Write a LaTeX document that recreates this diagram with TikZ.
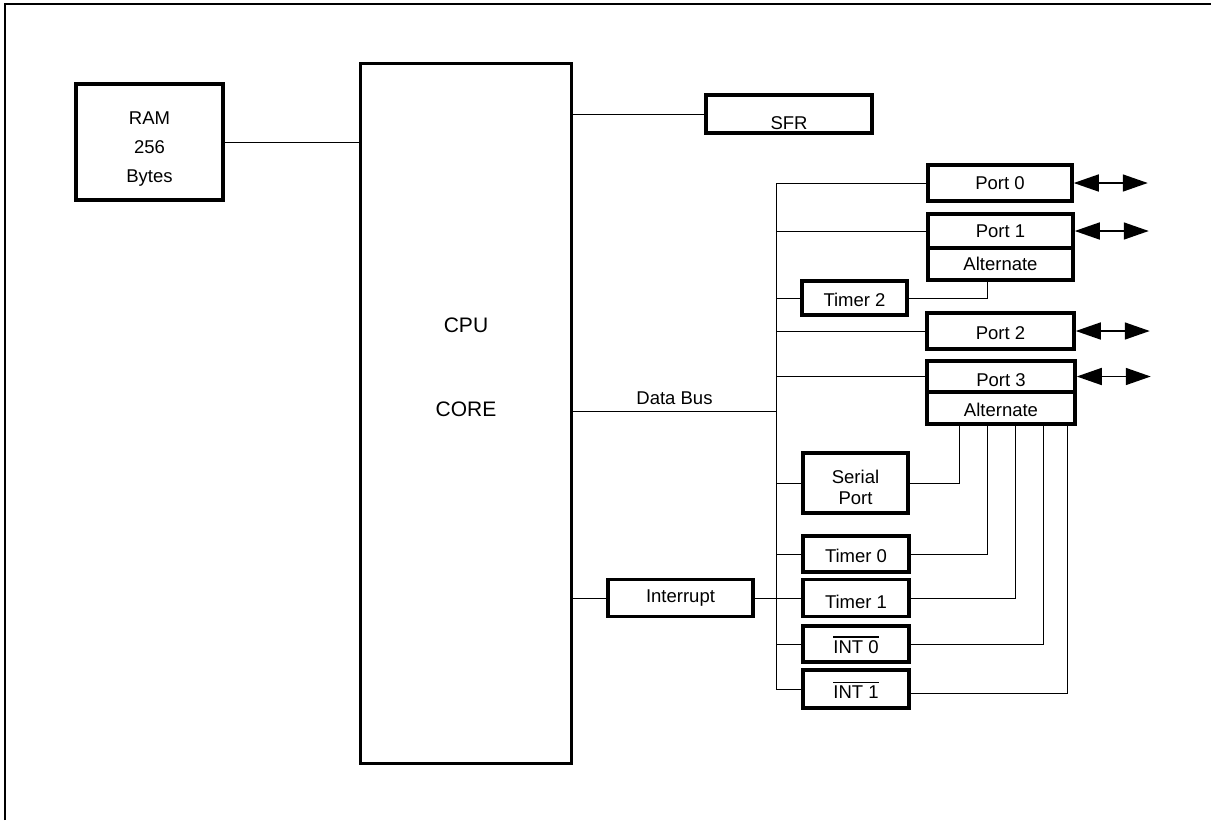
\documentclass[tikz,border=0pt]{standalone}
\usepackage{fontspec}
\setmainfont{Liberation Sans}
\usetikzlibrary{arrows.meta,calc}
\newcommand{\ovlbar}[1]{\vbox{\hrule height 1.2pt\kern 3pt\hbox{#1}}}
\begin{document}
\begin{tikzpicture}[x=1pt,y=-1pt,
  box/.style={draw,line width=3.5pt,rectangle,inner sep=0pt,font=\fontsize{18.5}{22}\selectfont,align=center},
  conn/.style={line width=1pt},
  bidir/.style={line width=1.6pt,{Triangle[length=25pt,width=17pt]}-{Triangle[length=25pt,width=17pt]}},
  lbl/.style={font=\fontsize{18.5}{22}\selectfont,align=center},
  big/.style={font=\fontsize{21}{25}\selectfont}]
\useasboundingbox (0,0) rectangle (1211,820);
\draw[line width=2.5pt] (5,820) -- (5,4) -- (1211,4);

% boxes
\node[box,minimum width=147,minimum height=116] (ram) at (149.5,142) {};
\node[lbl] (ramtxt) at (149.5,149) {RAM\\[7pt]256\\[7pt]Bytes};
\node[box,line width=3pt,minimum width=211,minimum height=700] (cpu) at (466,413) {};
\node[big] (cputxt) at (466,325) {CPU};
\node[big] (coretxt) at (466,409) {CORE};
\node[box,minimum width=166,minimum height=38] (sfr) at (789,114) {};
\node[lbl] (sfrtxt) at (789,123) {SFR};

\node[box,minimum width=144,minimum height=36] (p0) at (1000,183) {Port 0};
\node[box,minimum width=145,minimum height=34] (p1) at (1000.5,231) {Port 1};
\node[box,minimum width=145,minimum height=32] (a1) at (1000.5,264) {Alternate};
\node[box,minimum width=105,minimum height=34] (t2) at (854.5,298) {};
\node[lbl] (t2txt) at (854.5,300) {Timer 2};
\node[box,minimum width=147,minimum height=36] (p2) at (1000.5,331) {};
\node[lbl] (p2txt) at (1000.5,333) {Port 2};
\node[box,minimum width=148,minimum height=31] (p3) at (1001,376.5) {};
\node[lbl] (p3txt) at (1001,380) {Port 3};
\node[box,minimum width=148,minimum height=32] (a3) at (1001,408) {};
\node[lbl] (a3txt) at (1001,410) {Alternate};
\node[box,minimum width=105,minimum height=60] (sp) at (855.5,483) {};
\node[lbl] (sptxt) at (855.5,487) {Serial\\[-1pt]Port};
\node[box,minimum width=106,minimum height=36] (t0) at (856,554) {};
\node[lbl] (t0txt) at (856,556) {Timer 0};
\node[box,minimum width=145,minimum height=37] (intr) at (680.5,598) {Interrupt};
\node[box,minimum width=106,minimum height=37] (t1) at (856,598) {};
\node[lbl] (t1txt) at (856,602) {Timer 1};
\node[box,minimum width=106,minimum height=36] (i0) at (856,644) {};
\node[lbl] (i0txt) at (856,645) {\ovlbar{INT 0}};
\node[box,minimum width=106,minimum height=38] (i1) at (856,689) {};
\node[lbl] (i1txt) at (856,690) {\ovlbar{INT 1}};

% bus coordinates
\coordinate (bustop) at (776,183);
\coordinate (busbot) at (776,690);
\coordinate (db) at (776,411);
\coordinate (a1c) at (987,280);
\coordinate (a3s) at (959,424);
\coordinate (a3t0) at (987,424);
\coordinate (a3t1) at (1015,424);
\coordinate (a3i0) at (1043,424);
\coordinate (a3i1) at (1067,424);

% connectors
\draw[conn] (ram.east) -- (ram.east -| cpu.west);
\draw[conn] (sfr.west -| cpu.east) -- (sfr.west);
\draw[conn] (bustop) -- (busbot);
\draw[conn] (db -| cpu.east) -- node[lbl,above=2pt] (dbl) {Data Bus} (db);
\draw[conn] (p0.west -| bustop) -- (p0.west);
\draw[conn] (p1.west -| bustop) -- (p1.west);
\draw[conn] (t2.west -| bustop) -- (t2.west);
\draw[conn] (p2.west -| bustop) -- (p2.west);
\draw[conn] (p3.west -| bustop) -- (p3.west);
\draw[conn] (sp.west -| bustop) -- (sp.west);
\draw[conn] (t0.west -| bustop) -- (t0.west);
\draw[conn] (i0.west -| bustop) -- (i0.west);
\draw[conn] (i1.west -| bustop) -- (i1.west);
\draw[conn] (intr.west -| cpu.east) -- (intr.west);
\draw[conn] (intr.east) -- (t1.west);

\draw[conn] (t2.east) -| (a1c);
\draw[conn] (sp.east) -| (a3s);
\draw[conn] (t0.east) -| (a3t0);
\draw[conn] (t1.east) -| (a3t1);
\draw[conn] (i0.east) -| (a3i0);
\draw[conn] ($(i1.east)+(0,4)$) -| (a3i1);

% bidirectional port arrows
\draw[bidir] (p0.east) -- ++(74,0) coordinate (p0e);
\draw[bidir] (p1.east) -- ++(74,0) coordinate (p1e);
\draw[bidir] (p2.east) -- ++(74,0) coordinate (p2e);
\draw[bidir] (p3.east) -- ++(74,0) coordinate (p3e);
\end{tikzpicture}
\end{document}
